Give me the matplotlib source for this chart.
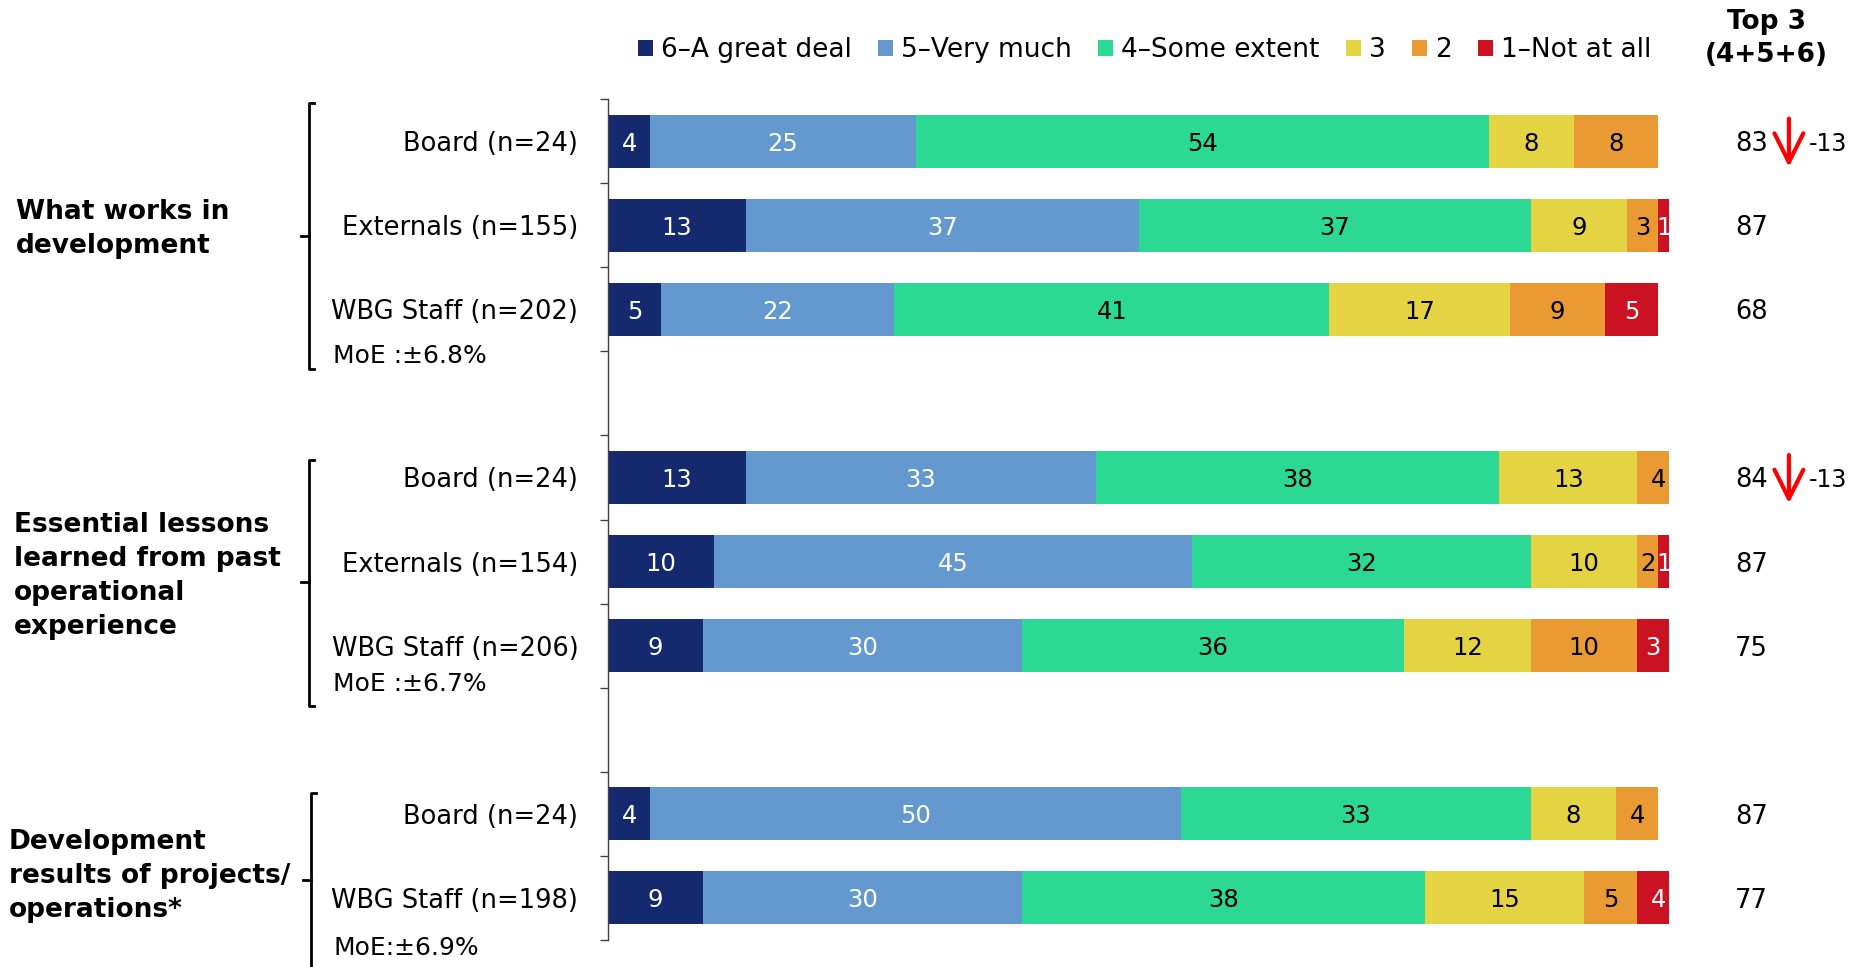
import matplotlib
matplotlib.use('Agg')
import matplotlib.pyplot as plt
from matplotlib.lines import Line2D
import numpy as np

# ---- data ----
levels = ['6\u2013A great deal', '5\u2013Very much', '4\u2013Some extent', '3', '2', '1\u2013Not at all']
colors = ['#15296E', '#6499CF', '#2BD995', '#E4D343', '#E99A33', '#CB1223']
text_colors = ['white', 'white', 'black', 'black', 'black', 'white']

row_labels = ['Board (n=24)', 'Externals (n=155)', 'WBG Staff (n=202)',
              'Board (n=24)', 'Externals (n=154)', 'WBG Staff (n=206)',
              'Board (n=24)', 'WBG Staff (n=198)']
row_slots = [0, 1, 2, 4, 5, 6, 8, 9]

shares = [
    [4, 25, 54, 8, 8, 0],
    [13, 37, 37, 9, 3, 1],
    [5, 22, 41, 17, 9, 5],
    [13, 33, 38, 13, 4, 0],
    [10, 45, 32, 10, 2, 1],
    [9, 30, 36, 12, 10, 3],
    [4, 50, 33, 8, 4, 0],
    [9, 30, 38, 15, 5, 4],
]
top3 = [83, 87, 68, 84, 87, 75, 87, 77]
change = [-13, None, None, -13, None, None, None, None]

groups = ['What works in\ndevelopment',
          'Essential lessons\nlearned from past\noperational\nexperience',
          'Development\nresults of projects/\noperations*']
moe = ['MoE :\u00b16.8%', 'MoE :\u00b16.7%', 'MoE:\u00b16.9%']

# ---- layout ----
plt.rcParams['font.family'] = ['DejaVu Sans']
W, H = 1850, 967
fig = plt.figure(figsize=(W / 100, H / 100), dpi=100)
ax = fig.add_axes([608 / W, 1 - 940 / H, 1061 / W, 841 / H])

vals = np.array(shares, dtype=float)
ypos = np.array(row_slots) + 0.5
left = np.zeros(len(row_labels))
for j, lev in enumerate(levels):
    ax.barh(ypos, vals[:, j], left=left, height=0.63, color=colors[j],
            linewidth=0, label=lev)
    for i in range(len(row_labels)):
        v = vals[i, j]
        if v > 0:
            ax.text(left[i] + v / 2, ypos[i], f'{v:.0f}', ha='center', va='center_baseline',
                    fontsize=17.5, color=text_colors[j])
    left += vals[:, j]

ax.set_xlim(0, 100)
ax.set_ylim(10, 0)
ax.set_xticks([])
ax.set_yticks(np.arange(0, 11))
ax.set_yticklabels([])
ax.tick_params(axis='y', direction='out', length=6, width=1, color='#404040')
for s in ['top', 'right', 'bottom']:
    ax.spines[s].set_visible(False)
ax.spines['left'].set_color('#404040')
ax.spines['left'].set_linewidth(1)

# row labels and top-3 column
for i, lab in enumerate(row_labels):
    ax.text(-2.8, ypos[i], lab, ha='right', va='center_baseline', fontsize=18.5, clip_on=False)
    ax.text(107.8, ypos[i], str(top3[i]), ha='center', va='center_baseline', fontsize=18.5,
            clip_on=False)
    if change[i] is not None:
        ax.annotate('', xy=(111.3, ypos[i] + 0.34), xytext=(111.3, ypos[i] - 0.3),
                    arrowprops=dict(arrowstyle='->,head_length=0.8,head_width=0.4',
                                    color='red', lw=3, mutation_scale=26),
                    annotation_clip=False)
        ax.text(113.2, ypos[i], str(change[i]), ha='left', va='center_baseline', fontsize=17,
                clip_on=False)

ax.text(109.2, -0.72, 'Top 3\n(4+5+6)', ha='center', va='center', fontsize=19,
        fontweight='bold', linespacing=1.33, clip_on=False)

# group labels, brackets, MoE notes
group_y = [1.55, 5.67, 9.24]
group_x = [-55.8, -56.0, -56.5]
bracket = [(-28.2, 0.05, 3.21, 1.63), (-28.2, 4.29, 7.22, 5.74), (-28.0, 8.25, 10.5, 9.29)]
moe_y = [3.03, 6.93, 10.06]
for g in range(3):
    ax.text(group_x[g], group_y[g], groups[g], ha='left', va='center', fontsize=19,
            fontweight='bold', linespacing=1.4, clip_on=False)
    bx, top, bot, nub = bracket[g]
    ax.add_line(Line2D([bx + 0.5, bx, bx, bx + 0.5], [top, top, bot, bot],
                       color='black', lw=2, clip_on=False, solid_joinstyle='round'))
    ax.add_line(Line2D([bx, bx - 0.7], [nub, nub], color='black', lw=2, clip_on=False))
    ax.text(-25.9, moe_y[g], moe[g], ha='left', va='center_baseline', fontsize=18, clip_on=False)

ax.legend(loc='center', bbox_to_anchor=(0.506, 1.058), ncol=6, frameon=False,
          fontsize=19, handlelength=0.55, handleheight=0.55, handletextpad=0.32,
          columnspacing=1.0, borderpad=0, borderaxespad=0)

fig.savefig('out.png', dpi=100, facecolor='white')
